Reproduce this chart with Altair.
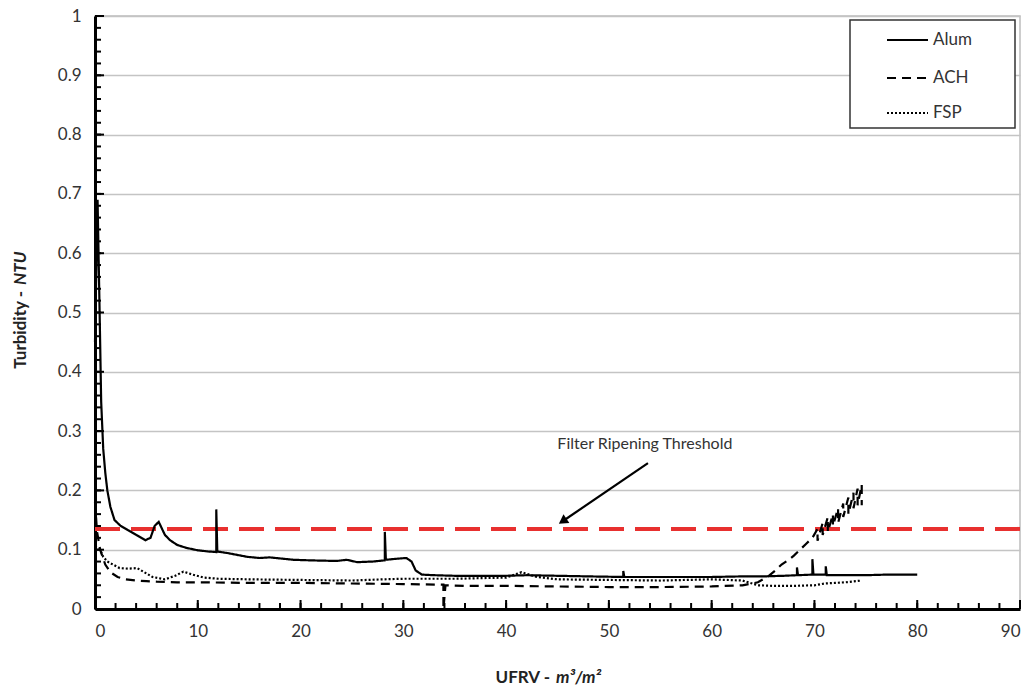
import altair as alt
import pandas as pd

# ---- data ----
alum_x = [0, 0.25, 0.45, 0.6, 0.8, 1.0, 1.2, 1.5, 1.9, 2.5, 3.2, 4.0, 4.9, 5.4, 5.8, 6.2, 6.8, 7.3, 8.0, 8.9,
          10.0, 11.0, 11.8, 11.8, 11.9, 13.0, 14.8, 16.0, 17.0, 19.3, 21, 23.5, 24.5, 25.5, 27, 28.2, 28.2, 28.3,
          29.5, 30.3, 30.8, 31.2, 31.8, 33, 35, 38, 40, 42, 45, 48, 51.4, 51.4, 51.5, 55, 58, 60, 63, 65, 67,
          68.3, 68.3, 68.4, 69.8, 69.8, 69.9, 71.1, 71.1, 71.2, 73, 75, 77, 80]
alum_y = [0.45, 0.69, 0.5, 0.35, 0.27, 0.23, 0.2, 0.172, 0.15, 0.14, 0.133, 0.125, 0.116, 0.12, 0.14, 0.147,
          0.125, 0.116, 0.108, 0.103, 0.099, 0.097, 0.096, 0.168, 0.097, 0.094, 0.088, 0.086, 0.087, 0.083,
          0.082, 0.081, 0.083, 0.079, 0.08, 0.082, 0.13, 0.083, 0.085, 0.086, 0.08, 0.065, 0.058, 0.057, 0.056,
          0.056, 0.056, 0.057, 0.056, 0.055, 0.054, 0.064, 0.054, 0.054, 0.054, 0.054, 0.055, 0.055, 0.056,
          0.057, 0.07, 0.057, 0.058, 0.084, 0.058, 0.058, 0.072, 0.057, 0.057, 0.057, 0.058, 0.058]

ach_x = [0, 0.2, 0.5, 1.0, 1.5, 2.2, 3, 4, 5, 6, 8, 10, 15, 20, 25, 30, 33.9, 33.9, 34.1, 36, 40, 45, 50, 55,
         60, 63, 64.5, 65.5, 66.2, 66.8, 67.5, 68.0, 68.6, 69.2, 69.8, 70.3, 70.3, 70.8, 70.8, 71.3, 71.3,
         71.8, 71.8, 72.3, 72.3, 72.8, 72.8, 73.3, 73.3, 73.8, 73.8, 74.2, 74.2, 74.6, 74.6]
ach_y = [0.18, 0.13, 0.1, 0.075, 0.062, 0.054, 0.05, 0.048, 0.047, 0.046, 0.045, 0.045, 0.044, 0.044, 0.043,
         0.042, 0.041, 0.0, 0.04, 0.039, 0.039, 0.038, 0.037, 0.037, 0.038, 0.04, 0.045, 0.055, 0.065, 0.075,
         0.083, 0.09, 0.1, 0.11, 0.12, 0.135, 0.115, 0.145, 0.125, 0.155, 0.13, 0.16, 0.14, 0.17, 0.145,
         0.178, 0.155, 0.188, 0.16, 0.196, 0.17, 0.203, 0.175, 0.21, 0.175]

fsp_x = [0, 0.5, 0.8, 1.2, 2.4, 3.2, 4.1, 4.8, 5.6, 6.8, 7.8, 8.6, 9.5, 10.6, 12, 15, 20, 25, 28, 30, 35, 40,
         41.5, 43, 45, 50, 55, 60, 63, 64.5, 66, 68, 70, 71, 72, 73, 74.6]
fsp_y = [0.105, 0.1, 0.088, 0.08, 0.069, 0.068, 0.069, 0.062, 0.054, 0.05, 0.056, 0.063, 0.058, 0.053, 0.051,
         0.05, 0.049, 0.048, 0.05, 0.051, 0.051, 0.053, 0.062, 0.054, 0.05, 0.049, 0.048, 0.05, 0.048, 0.04,
         0.039, 0.039, 0.04, 0.043, 0.044, 0.045, 0.048]

series_names = ["Alum", "ACH", "FSP"]
series_dash = [[1, 0], [9, 6], [2, 2]]
threshold = [0.135]
note_text = ["Filter Ripening Threshold"]
note_x = [53.5]
note_y = [0.278]
arrow_x = [53.8, 45.5]
arrow_y = [0.246, 0.148]
x_title = ["UFRV -", "m³/m²"]
y_title = ["Turbidity -", "NTU"]

x_ticks = list(range(0, 91, 2))
y_ticks = [round(i * 0.02, 2) for i in range(51)]

# ---- tables ----
rows = []
for name, xs, ys in zip(series_names, [alum_x, ach_x, fsp_x], [alum_y, ach_y, fsp_y]):
    for i, (a, b) in enumerate(zip(xs, ys)):
        rows.append({"series": name, "x": a, "y": b, "order": i})
df = pd.DataFrame(rows)

FONT = "Lato"
xscale = alt.Scale(domain=[0, 90], nice=False)
yscale = alt.Scale(domain=[0, 1], nice=False)

base_x = alt.X("x:Q", scale=xscale,
               axis=alt.Axis(values=list(range(0, 91, 10)), title=None, grid=False, ticks=False,
                             domainColor="black", domainWidth=3, labelFontSize=17, labelColor="#333",
                             labelPadding=14, labelFont=FONT))
base_y = alt.Y("y:Q", scale=yscale,
               axis=alt.Axis(values=[round(i * 0.1, 1) for i in range(11)], format="~g",
                             title=None, grid=True, gridColor="#c4c4c4", gridWidth=1.5,
                             ticks=False, domainColor="black", domainWidth=3, labelFontSize=17,
                             labelColor="#333", labelPadding=14, labelFont=FONT))

lines = alt.Chart(df).mark_line(color="black", strokeWidth=2.2).encode(
    x=base_x, y=base_y,
    strokeDash=alt.StrokeDash("series:N",
                              scale=alt.Scale(domain=series_names, range=series_dash),
                              legend=None),
    order="order:Q",
    detail="series:N",
)

thr = alt.Chart(pd.DataFrame({"t": threshold})).mark_rule(
    color="#e8302f", strokeWidth=4, strokeDash=[25, 11]).encode(y=alt.Y("t:Q", scale=yscale))

xt = pd.DataFrame({"x": x_ticks, "major": [v % 10 == 0 for v in x_ticks]})
xt_minor = alt.Chart(xt).mark_rule(color="black", strokeWidth=2).encode(
    x=alt.X("x:Q", scale=xscale), y=alt.value(593), y2=alt.value(587))
xt_major = alt.Chart(xt).transform_filter("datum.major").mark_rule(color="black", strokeWidth=2).encode(
    x=alt.X("x:Q", scale=xscale), y=alt.value(593), y2=alt.value(584))

yt = pd.DataFrame({"y": y_ticks, "major": [round(v * 100) % 10 == 0 for v in y_ticks]})
yt_minor = alt.Chart(yt).mark_rule(color="black", strokeWidth=2).encode(
    y=alt.Y("y:Q", scale=yscale), x=alt.value(0), x2=alt.value(6))
yt_major = alt.Chart(yt).transform_filter("datum.major").mark_rule(color="black", strokeWidth=2).encode(
    y=alt.Y("y:Q", scale=yscale), x=alt.value(0), x2=alt.value(9))

note = alt.Chart(pd.DataFrame({"x": note_x, "y": note_y, "t": note_text})).mark_text(
    fontSize=16, font=FONT, color="#333").encode(
    x=alt.X("x:Q", scale=xscale), y=alt.Y("y:Q", scale=yscale), text="t:N")

adf = pd.DataFrame({"x": [arrow_x[0]], "y": [arrow_y[0]], "x2": [arrow_x[1]], "y2": [arrow_y[1]]})
arrow_line = alt.Chart(adf).mark_rule(color="black", strokeWidth=2.2).encode(
    x=alt.X("x:Q", scale=xscale), y=alt.Y("y:Q", scale=yscale), x2="x2:Q", y2="y2:Q")
arrow_head = alt.Chart(adf).mark_point(shape="triangle-up", angle=236, filled=True, size=110,
                                       color="black", opacity=1).encode(
    x=alt.X("x2:Q", scale=xscale), y=alt.Y("y2:Q", scale=yscale))

# ---- axis titles (mixed upright / italic) ----
one = pd.DataFrame({"t": [0]})
xt1 = alt.Chart(pd.DataFrame({"t": [x_title[0]]})).mark_text(
    font=FONT, fontSize=17, fontWeight="bold", color="#222", align="right", baseline="middle").encode(
    text="t:N", x=alt.value(455), y=alt.value(662))
xt2 = alt.Chart(pd.DataFrame({"t": [x_title[1]]})).mark_text(
    font=FONT, fontSize=17, fontWeight="bold", fontStyle="italic", color="#222", align="left",
    baseline="middle").encode(text="t:N", x=alt.value(461), y=alt.value(662))
yt1 = alt.Chart(pd.DataFrame({"t": [y_title[0]]})).mark_text(
    font=FONT, fontSize=17, fontWeight="bold", color="#222", align="right", baseline="middle",
    angle=270).encode(text="t:N", x=alt.value(-74), y=alt.value(275))
yt2 = alt.Chart(pd.DataFrame({"t": [y_title[1]]})).mark_text(
    font=FONT, fontSize=17, fontWeight="bold", fontStyle="italic", color="#222", align="left",
    baseline="middle", angle=270).encode(text="t:N", x=alt.value(-74), y=alt.value(269))

# ---- legend box ----
legend_layers = [alt.Chart(one).mark_rect(fill="white", stroke="#333", strokeWidth=1.5).encode(
    x=alt.value(755), x2=alt.value(920), y=alt.value(4), y2=alt.value(112))]
row_y = [24, 62, 97]
for name, dash, ry in zip(series_names, series_dash, row_y):
    legend_layers.append(alt.Chart(one).mark_rule(color="black", strokeWidth=2.2, strokeDash=dash).encode(
        x=alt.value(792), x2=alt.value(833), y=alt.value(ry)))
    legend_layers.append(alt.Chart(pd.DataFrame({"t": [name]})).mark_text(
        font=FONT, fontSize=17, color="#333", align="left", baseline="middle").encode(
        text="t:N", x=alt.value(838), y=alt.value(ry)))

chart = alt.layer(thr, lines, xt_minor, xt_major, yt_minor, yt_major, note, arrow_line, arrow_head,
                  xt1, xt2, yt1, yt2, *legend_layers).properties(
    width=925, height=593,
    padding={"left": 95, "top": 16, "right": 16, "bottom": 83},
    autosize=alt.AutoSizeParams(type="none"),
    background="white",
).configure_view(stroke="#bdbdbd", strokeWidth=1.5)

chart.save("out.html", embed_options={"renderer": "svg", "actions": False})
